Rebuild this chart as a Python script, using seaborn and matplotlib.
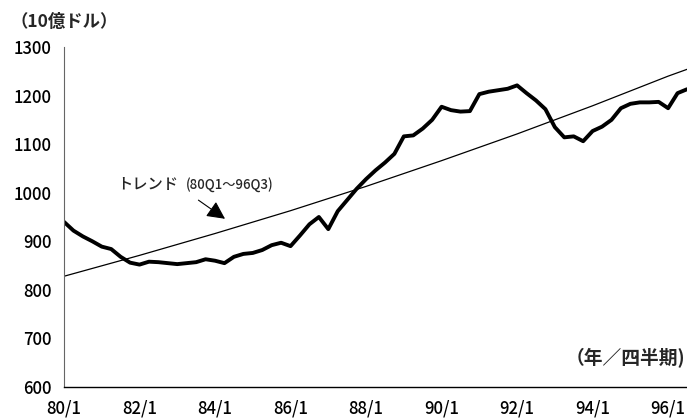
import numpy as np
import pandas as pd
import matplotlib
matplotlib.use("Agg")
import matplotlib.pyplot as plt
import seaborn as sns

# Quarterly values 80Q1 - 96Q3 (10億ドル)
values = [940, 922, 910, 900, 889, 884, 868, 856,
          852, 858, 857, 855, 853, 855, 857, 863,
          860, 855, 868, 874, 876, 882, 892, 897,
          890, 912, 935, 950, 925, 962, 985, 1008,
          1028, 1046, 1062, 1080, 1116, 1118, 1132, 1150,
          1177, 1170, 1167, 1168, 1203, 1208, 1211, 1214,
          1221, 1205, 1190, 1172, 1135, 1114, 1116, 1106,
          1127, 1136, 1150, 1174, 1183, 1186, 1186, 1187,
          1174, 1205, 1213]

# Trend line (quarter index, value)
trend_q = [0, 8, 16, 24, 32, 40, 48, 56, 64, 66]
trend_v = [828, 871, 916, 963, 1013, 1066, 1121, 1179, 1240, 1254]

tick_labels = ["80/1", "82/1", "84/1", "86/1", "88/1", "90/1", "92/1", "94/1", "96/1"]
y_ticks = [600, 700, 800, 900, 1000, 1100, 1200, 1300]

df = pd.DataFrame({"q": np.arange(len(values)), "value": values})
trend = pd.DataFrame({"q": trend_q, "value": trend_v})

sns.set_style("white")
plt.rcParams["font.family"] = ["Noto Sans CJK JP", "DejaVu Sans"]

fig = plt.figure(figsize=(6.87, 4.20), dpi=100)
ax = fig.add_axes([64 / 687, 1 - 387 / 420, 1 - 64 / 687, (387 - 47) / 420])

sns.lineplot(data=trend, x="q", y="value", ax=ax, color="black", linewidth=0.9)
sns.lineplot(data=df, x="q", y="value", ax=ax, color="black", linewidth=2.8)

ax.set_xlim(0, len(values) - 1)
ax.set_ylim(600, 1300)
ax.set_xlabel("")
ax.set_ylabel("")

ax.set_xticks(np.arange(0, len(values), 4), minor=True)
ax.set_xticks(np.arange(0, len(tick_labels) * 8, 8))
ax.set_xticklabels(tick_labels)
ax.set_yticks(y_ticks)

ax.tick_params(axis="x", which="both", direction="in", length=3, width=0.8,
               pad=9, labelsize=12, colors="black")
ax.tick_params(axis="y", direction="in", length=4, width=0.8, pad=9,
               labelsize=12, colors="black")
for lab in ax.get_xticklabels() + ax.get_yticklabels():
    lab.set_fontweight("medium")

for s in ["top", "right"]:
    ax.spines[s].set_visible(False)
ax.spines["left"].set_linestyle((0, (1, 1)))
ax.spines["left"].set_color("#666666")
ax.spines["bottom"].set_color("black")
ax.spines["bottom"].set_linewidth(1.0)

# annotation for the trend line
ax.text(5.6, 1016, "トレンド", fontsize=11, va="center", ha="left", fontweight="medium")
ax.text(12.9, 1016, "(80Q1～96Q3)", fontsize=9.5, va="center", ha="left", fontweight="medium")
ax.annotate("", xy=(17.3, 943), xytext=(14.0, 988),
            arrowprops=dict(arrowstyle="-|>,head_length=1.1,head_width=0.55",
                            color="black", lw=0.8))

fig.text(10 / 687, 1 - 22 / 420, "（10億ドル）", fontsize=12.5, fontweight="bold",
         va="center", ha="left")
fig.text(685 / 687, 1 - 358 / 420, "（年／四半期)", fontsize=13.5, fontweight="bold",
         va="center", ha="right")

fig.savefig("out.png", dpi=100)
